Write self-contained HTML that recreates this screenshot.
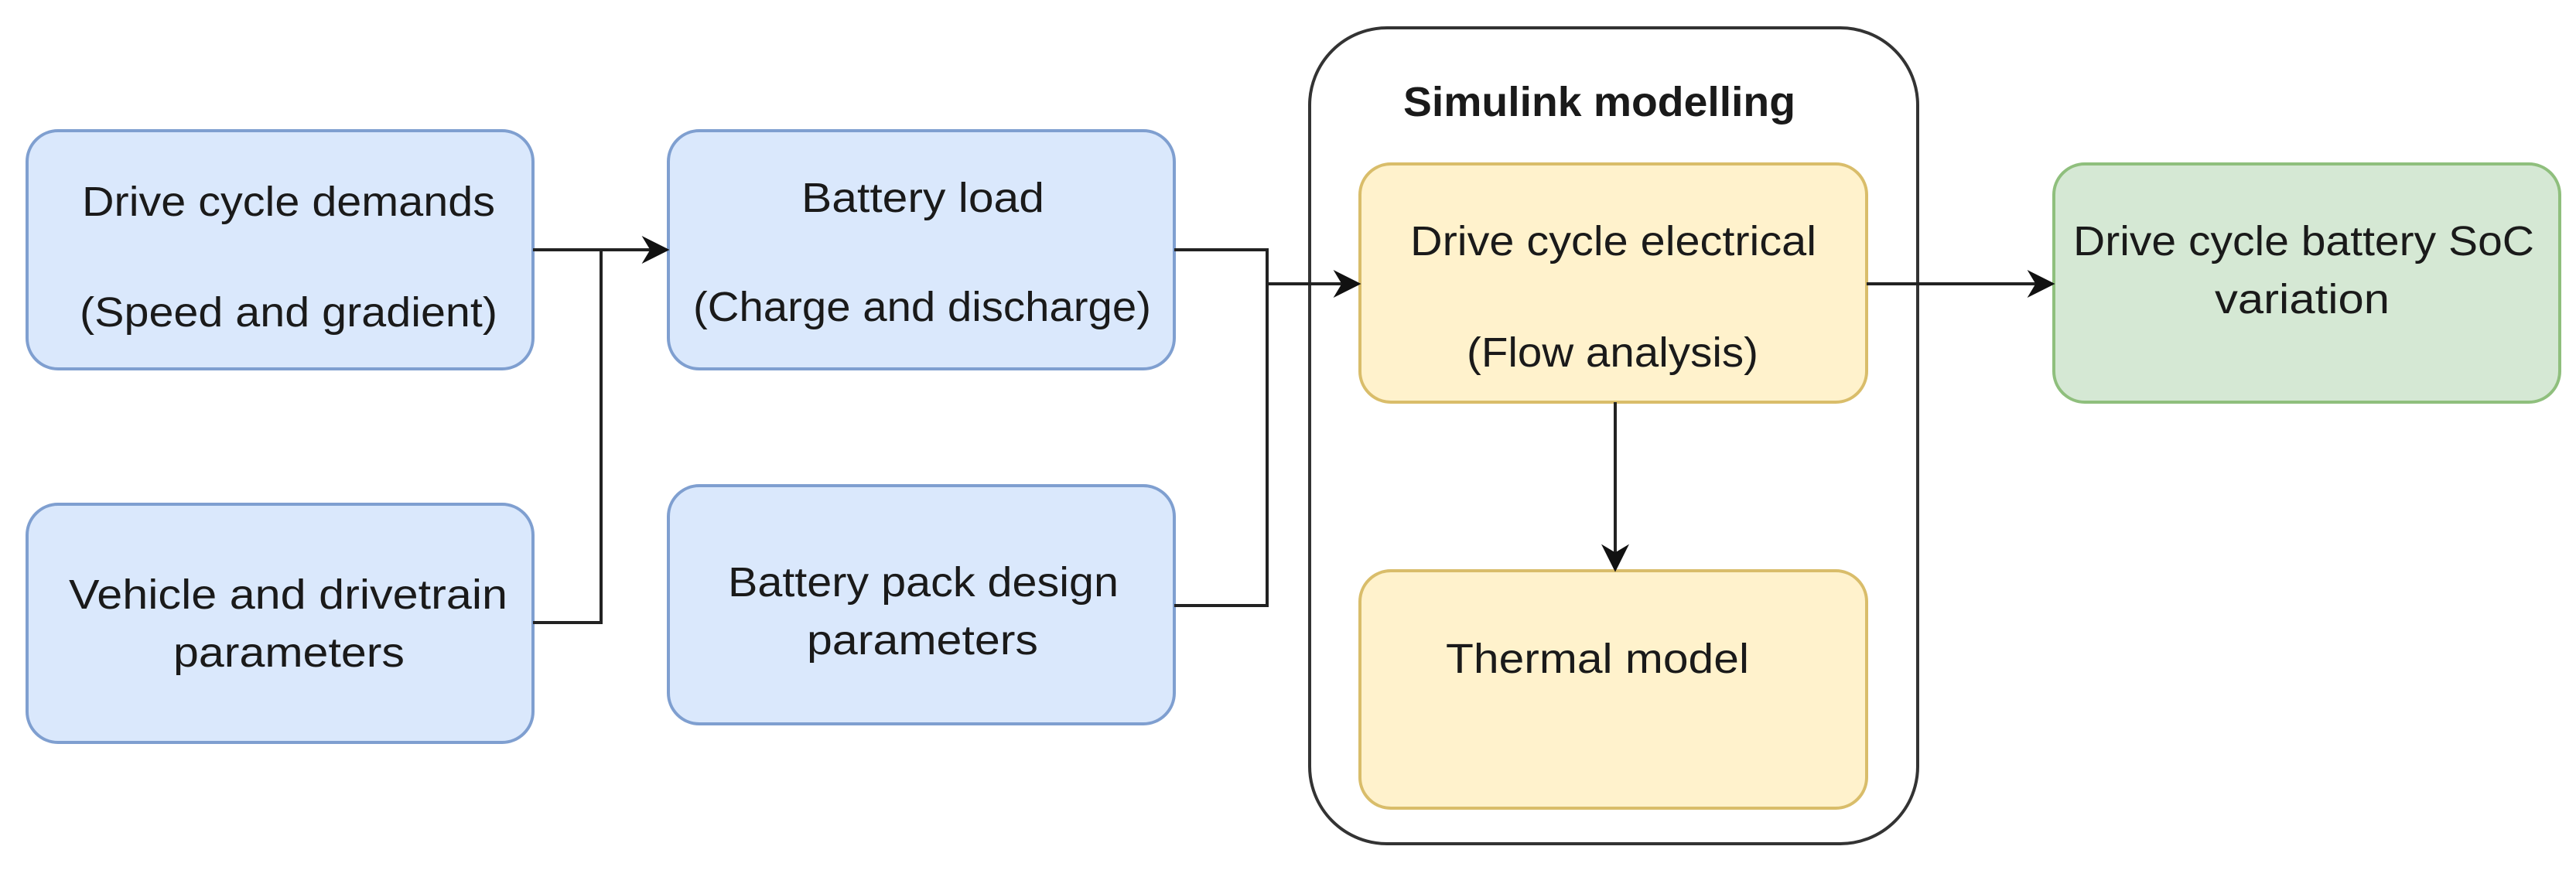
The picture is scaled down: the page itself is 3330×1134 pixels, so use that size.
<!DOCTYPE html>
<html><head><meta charset="utf-8"><style>html,body{margin:0;padding:0;background:#fff}</style></head>
<body>
<svg width="3330" height="1129" viewBox="0 0 3330 1129" xmlns="http://www.w3.org/2000/svg" font-family="'Liberation Sans', sans-serif" font-size="54" fill="#1a1a1a">
<defs>
<marker id="b" viewBox="0 0 10 10" refX="9" refY="5" markerWidth="36" markerHeight="36" markerUnits="userSpaceOnUse" orient="auto"><path d="M0,0 L10,5 L0,10 L3,5 Z" fill="#111"/></marker></defs>
<rect x="1693" y="36" width="786" height="1055" rx="100" fill="#fff" stroke="#333" stroke-width="4"/>
<g stroke-width="4">
<rect x="35" y="169" width="654" height="308" rx="40" fill="#dae8fc" stroke="#7f9fd0"/>
<rect x="35" y="652" width="654" height="308" rx="40" fill="#dae8fc" stroke="#7f9fd0"/>
<rect x="864" y="169" width="654" height="308" rx="40" fill="#dae8fc" stroke="#7f9fd0"/>
<rect x="864" y="628" width="654" height="308" rx="40" fill="#dae8fc" stroke="#7f9fd0"/>
<rect x="1758" y="212" width="655" height="308" rx="40" fill="#fff2cc" stroke="#d9bd6a"/>
<rect x="1758" y="738" width="655" height="307" rx="40" fill="#fff2cc" stroke="#d9bd6a"/>
<rect x="2655" y="212" width="654" height="308" rx="40" fill="#d5e8d4" stroke="#8fbf7d"/>
</g>
<g stroke="#222" stroke-width="4" fill="none">
<path d="M689,323 H862" marker-end="url(#b)"/>
<path d="M689,805 H777 V323"/>
<path d="M1518,323 H1638 V783 H1518"/>
<path d="M1638,367 H1756" marker-end="url(#b)"/>
<path d="M2413,367 H2653" marker-end="url(#b)"/>
<path d="M2088,520 V736" marker-end="url(#b)"/>
</g>
<g>
<text x="106" y="279" textLength="534" lengthAdjust="spacingAndGlyphs">Drive cycle demands</text>
<text x="103" y="422" textLength="540" lengthAdjust="spacingAndGlyphs">(Speed and gradient)</text>
<text x="1036" y="274" textLength="314" lengthAdjust="spacingAndGlyphs">Battery load</text>
<text x="896" y="415" textLength="592" lengthAdjust="spacingAndGlyphs">(Charge and discharge)</text>
<text x="89" y="787" textLength="567" lengthAdjust="spacingAndGlyphs">Vehicle and drivetrain</text>
<text x="224" y="862" textLength="299" lengthAdjust="spacingAndGlyphs">parameters</text>
<text x="941" y="771" textLength="505" lengthAdjust="spacingAndGlyphs">Battery pack design</text>
<text x="1043" y="846" textLength="299" lengthAdjust="spacingAndGlyphs">parameters</text>
<text x="1814" y="150" textLength="507" lengthAdjust="spacingAndGlyphs" font-weight="bold">Simulink modelling</text>
<text x="1823" y="330" textLength="525" lengthAdjust="spacingAndGlyphs">Drive cycle electrical</text>
<text x="1896" y="474" textLength="377" lengthAdjust="spacingAndGlyphs">(Flow analysis)</text>
<text x="1869" y="870" textLength="392" lengthAdjust="spacingAndGlyphs">Thermal model</text>
<text x="2680" y="330" textLength="596" lengthAdjust="spacingAndGlyphs">Drive cycle battery SoC</text>
<text x="2863" y="405" textLength="226" lengthAdjust="spacingAndGlyphs">variation</text>
</g>
</svg>
</body></html>
